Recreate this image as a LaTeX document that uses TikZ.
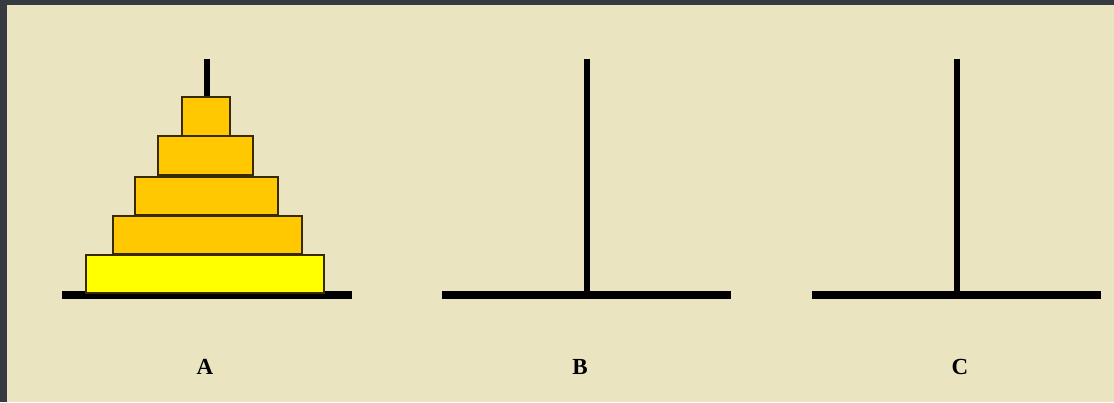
\documentclass[tikz,border=0pt]{standalone}
\usepackage{fontspec}
\setmainfont{Liberation Serif}
\definecolor{frame}{HTML}{363B41}
\definecolor{bg}{HTML}{EAE4C0}
\definecolor{gold}{HTML}{FFC800}
\definecolor{yel}{HTML}{FFFF00}
\definecolor{edge}{HTML}{3A2A00}
\tikzset{
  peg/.style={line width=6.5pt, black},
  base/.style={line width=7.5pt, black},
  disk/.style={draw=edge, line width=1.2pt},
  lbl/.style={font=\bfseries\fontsize{23}{26}\selectfont, inner sep=0pt},
}
\begin{document}
\begin{tikzpicture}[x=1pt,y=-1pt]
\useasboundingbox (0,0) rectangle (1114,402);
\fill[frame] (0,0) rectangle (1114,402);
\fill[bg] (7,5) rectangle (1114,402);
% pegs
\draw[peg] (207,59) -- (207,110);
\draw[peg] (587,59) -- (587,295);
\draw[peg] (957,59) -- (957,295);
% bases
\draw[base] (62,295) -- (352,295);
\draw[base] (442,295) -- (731,295);
\draw[base] (812,295) -- (1101,295);
% disks
\draw[disk, fill=yel]  (86,255) rectangle (324,293);
\draw[disk, fill=gold] (113,216) rectangle (302,254);
\draw[disk, fill=gold] (135,177) rectangle (278,215);
\draw[disk, fill=gold] (158,136) rectangle (253,175);
\draw[disk, fill=gold] (182,97) rectangle (230,136);
% labels
\node[lbl] (la) at (205,367) {A};
\node[lbl] (lb) at (580,367) {B};
\node[lbl] (lc) at (960,367) {C};
\end{tikzpicture}
\end{document}
